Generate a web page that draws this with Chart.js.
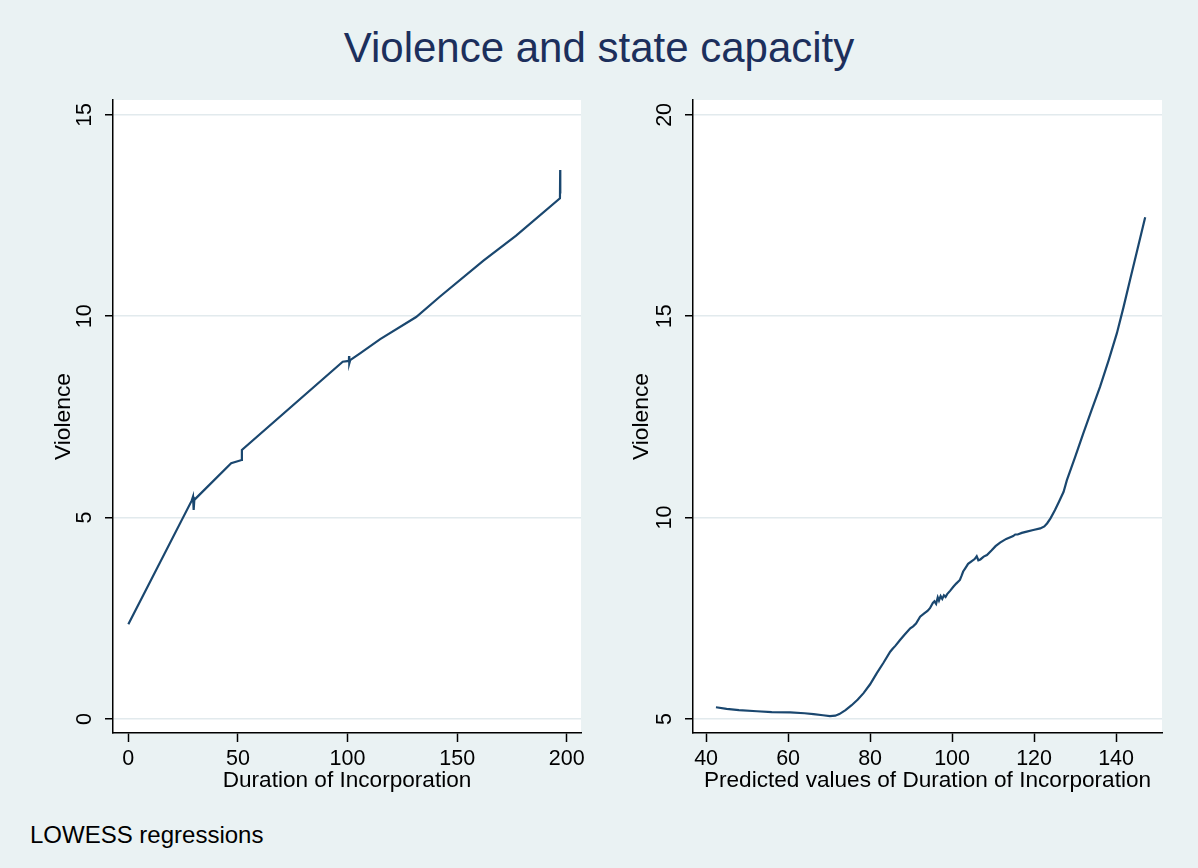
<!DOCTYPE html>
<html>
<head>
<meta charset="utf-8">
<title>Violence and state capacity</title>
<script src="https://cdn.jsdelivr.net/npm/chart.js@4.4.1/dist/chart.umd.min.js"></script>
<style>
  html, body { margin: 0; padding: 0; background: #EAF2F3; }
  #page { position: relative; width: 1198px; height: 868px; background: #EAF2F3; overflow: hidden;
          font-family: "Liberation Sans", Arial, sans-serif; }
  #title { position: absolute; left: 0; width: 1198px; top: 27px; text-align: center;
           font-size: 42px; line-height: 42px; color: #1C2F5C; }
  #note { position: absolute; left: 30px; top: 823px; font-size: 24px; line-height: 24px; color: #000; }
  .panel { position: absolute; top: 90px; height: 720px; }
  #p1 { left: 0; width: 600px; }
  #p2 { left: 600px; width: 598px; }
</style>
</head>
<body>
<div id="page">
  <div id="title">Violence and state capacity</div>
  <div class="panel" id="p1"><canvas id="c1" width="600" height="720"></canvas></div>
  <div class="panel" id="p2"><canvas id="c2" width="598" height="720"></canvas></div>
  <div id="note">LOWESS regressions</div>
</div>
<script>
// Left panel: LOWESS fit of violence on duration of incorporation
const durationX = [0, 28.9, 29.5, 29.8, 30.1, 46.9, 51.7, 51.8, 97.8, 100.6, 100.7, 100.8, 101.2,
                   105.7, 114.9, 131.3, 142.2, 162.0, 176.9, 196.9, 197.0, 197.05];
const durationY = [2.35, 5.42, 5.52, 5.19, 5.44, 6.35, 6.43, 6.68, 8.87, 8.89, 9.01, 8.83, 8.91,
                   9.08, 9.43, 9.98, 10.49, 11.38, 12.00, 12.93, 13.63, 13.05];

// Right panel: LOWESS fit of violence on predicted duration
const predictedX = [42.4, 45, 48, 52.4, 56, 60.5, 64, 66.2, 68.5, 70.2, 71.5, 72.5, 74, 75.5, 77, 78.4,
                    80, 81.6, 83.3, 84.9, 85.5, 86.2, 87.3, 88.5, 89.8, 90.5, 91.2, 92.2, 93.2, 94,
                    94.6, 95.3, 95.7, 96.1, 96.5, 96.8, 97.2, 97.6, 98.0, 98.4, 98.8, 99.5, 100.3,
                    101.0, 101.9, 102.3, 102.7, 103.2, 103.9, 104.8, 105.5, 106.0, 106.4, 106.9,
                    107.7, 108.5, 109.6, 110.6, 111.7, 113.2, 114.9, 115.4, 116.0, 117.0, 118.2,
                    119.8, 121.5, 122.5, 123.2, 124.0, 125.1, 126.1, 127.2, 128.0, 130, 132.0,
                    134, 136.1, 138.2, 140.2, 141.8, 143.4, 145.2, 147.1];
const predictedY = [5.29, 5.25, 5.22, 5.19, 5.17, 5.16, 5.14, 5.12, 5.09, 5.07, 5.08, 5.12, 5.22, 5.34,
                    5.48, 5.64, 5.86, 6.13, 6.40, 6.67, 6.74, 6.82, 6.96, 7.10, 7.25, 7.30, 7.37,
                    7.54, 7.62, 7.68, 7.75, 7.88, 7.92, 7.86, 8.02, 7.94, 8.05, 7.98, 8.07, 8.03,
                    8.10, 8.18, 8.28, 8.36, 8.45, 8.55, 8.66, 8.74, 8.85, 8.92, 8.97, 9.04, 8.94,
                    8.96, 9.03, 9.07, 9.18, 9.29, 9.38, 9.47, 9.54, 9.58, 9.58, 9.62, 9.65, 9.69,
                    9.73, 9.78, 9.86, 9.98, 10.19, 10.40, 10.64, 10.93, 11.50, 12.09, 12.66, 13.25,
                    13.91, 14.58, 15.22, 15.90, 16.66, 17.46];

// Tick values and axis ranges
const leftXTicks = [0, 50, 100, 150, 200];
const leftYTicks = [0, 5, 10, 15];
const rightXTicks = [40, 60, 80, 100, 120, 140];
const rightYTicks = [5, 10, 15, 20];
const leftXRange = [-7, 206.5];
const leftYRange = [-0.35, 15.37];
const rightXRange = [36.8, 151.2];
const rightYRange = [4.65, 20.37];

const xTitleLeft = 'Duration of Incorporation';
const xTitleRight = 'Predicted values of Duration of Incorporation';
const yTitle = 'Violence';

const FONT = "'Liberation Sans', Arial, sans-serif";
const LINE = '#1A476F';
const GRID = '#E2EAED';

Chart.defaults.font.family = FONT;
Chart.defaults.color = '#000';

function fixedTicks(values) {
  return (scale) => { scale.ticks = values.map(v => ({ value: v })); };
}

function makePanel(canvas, xs, ys, xTicks, yTicks, xRange, yRange, xTitle, geom) {
  const points = xs.map((x, i) => ({ x: x, y: ys[i] }));
  return new Chart(canvas, {
    type: 'line',
    data: {
      datasets: [{
        data: points,
        borderColor: LINE,
        borderWidth: 2.2,
        pointRadius: 0,
        tension: 0,
        fill: false
      }]
    },
    options: {
      responsive: false,
      animation: false,
      devicePixelRatio: 1,
      layout: { padding: { left: 0, top: geom.top, right: geom.right, bottom: 0 } },
      plugins: { legend: { display: false }, tooltip: { enabled: false } },
      scales: {
        x: {
          type: 'linear',
          min: xRange[0], max: xRange[1],
          afterBuildTicks: fixedTicks(xTicks),
          afterFit: (s) => { s.height = geom.xAxisHeight; s.paddingLeft = 0; s.paddingRight = 0; },
          grid: { drawOnChartArea: false, tickLength: 9, tickColor: '#000', tickWidth: 1.5 },
          border: { color: '#000', width: 1.5 },
          ticks: { font: { size: 21.5 }, padding: 4, color: '#000', maxRotation: 0, autoSkip: false },
          title: { display: true, text: xTitle, font: { size: 22.6 }, color: '#000',
                   padding: { top: 0, bottom: geom.xTitlePad } }
        },
        y: {
          type: 'linear',
          min: yRange[0], max: yRange[1],
          afterBuildTicks: fixedTicks(yTicks),
          afterFit: (s) => { s.width = geom.yAxisWidth; s.paddingTop = 0; s.paddingBottom = 0; },
          grid: { color: GRID, lineWidth: 1.5, tickLength: 8, tickColor: '#000', tickWidth: 1.5 },
          border: { color: '#000', width: 1.5 },
          ticks: { font: { size: 21.5 }, padding: 8, color: '#000', minRotation: 90, maxRotation: 90,
                   crossAlign: 'center', autoSkip: false },
          title: { display: true, text: yTitle, font: { size: 22.8 }, color: '#000',
                   padding: { top: geom.yTitlePad, bottom: 0 } }
        }
      }
    },
    plugins: [{
      id: 'plotBackground',
      beforeDraw(chart) {
        const a = chart.chartArea, ctx = chart.ctx;
        ctx.save();
        ctx.fillStyle = '#FFFFFF';
        ctx.fillRect(a.left, a.top, a.right - a.left, a.bottom - a.top);
        ctx.restore();
      }
    }]
  });
}

makePanel(document.getElementById('c1'), durationX, durationY, leftXTicks, leftYTicks,
          leftXRange, leftYRange, xTitleLeft,
          { top: 10, right: 19, yAxisWidth: 113, xAxisHeight: 77, xTitlePad: 16, yTitlePad: 50 });
makePanel(document.getElementById('c2'), predictedX, predictedY, rightXTicks, rightYTicks,
          rightXRange, rightYRange, xTitleRight,
          { top: 10, right: 36, yAxisWidth: 93, xAxisHeight: 77, xTitlePad: 16, yTitlePad: 28 });
</script>
</body>
</html>
